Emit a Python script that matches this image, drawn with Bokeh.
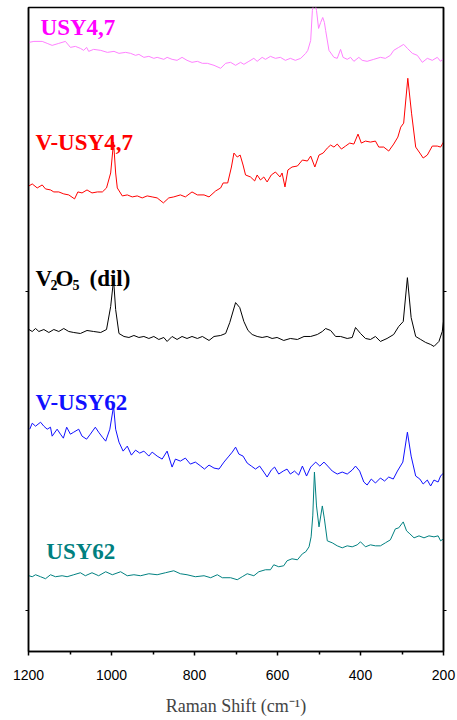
from bokeh.plotting import figure
from bokeh.models import Range1d, FixedTicker, LinearAxis, Label
from bokeh.embed import file_html
from bokeh.resources import INLINE

# Raman shift (cm-1) and intensity (a.u., stacked) for each spectrum
usy47_x = [1199, 1187, 1167, 1155, 1143, 1127, 1111, 1099, 1087, 1075, 1067, 1060, 1055, 1043, 1026, 1010,
           994, 982, 966, 954, 942, 934, 922, 910, 898, 890, 874, 866, 854, 842, 830, 818, 806, 793, 781,
           769, 753, 737, 725, 713, 701, 689, 681, 669, 657, 649, 637, 629, 617, 605, 593, 581, 569, 557,
           544, 532, 527, 520, 516, 511, 506, 501, 496, 491, 487, 484, 476, 464, 456, 448, 442, 432, 424,
           416, 404, 396, 384, 368, 352, 340, 328, 320, 308, 296, 287, 275, 263, 251, 239, 227, 215, 207, 200]
usy47_y = [570, 571, 571, 569, 567, 569, 571, 565, 566, 564, 562, 565, 561, 563, 562, 560,
           561, 559, 560, 559, 557, 558, 555, 556, 554, 555, 553, 555, 553, 552, 555, 552, 550, 551, 549,
           549, 547, 544, 549, 550, 547, 550, 548, 551, 554, 551, 555, 553, 556, 554, 555, 552, 554, 552,
           554, 559, 562, 572, 602, 612, 602, 584, 590, 595, 590, 582, 562, 555, 554, 563, 555, 553, 555,
           551, 555, 552, 551, 553, 555, 554, 557, 562, 565, 568, 564, 559, 557, 550, 554, 552, 555, 551, 554]

vusy47_x = [1199, 1191, 1179, 1167, 1159, 1147, 1139, 1127, 1115, 1103, 1089, 1081, 1071, 1059, 1047, 1034,
            1022, 1012, 1002, 995, 990, 986, 974, 962, 950, 938, 926, 914, 902, 890, 875, 862, 850, 834,
            822, 806, 793, 777, 765, 749, 737, 731, 720, 711, 705, 697, 690, 683, 677, 665, 655, 649, 641,
            633, 625, 615, 605, 594, 589, 582, 575, 565, 552, 540, 528, 520, 510, 500, 490, 480, 472, 464,
            456, 446, 436, 426, 416, 406, 398, 388, 376, 364, 356, 344, 332, 320, 310, 303, 296, 286, 277,
            267, 257, 249, 239, 227, 215, 207, 200]
vusy47_y = [426, 428, 424, 427, 423, 422, 420, 420, 418, 417, 413, 420, 419, 422, 419, 420,
            420, 424, 439, 470, 439, 424, 416, 417, 415, 416, 414, 416, 415, 414, 409, 414, 415, 417,
            415, 420, 417, 417, 415, 421, 424, 429, 429, 445, 459, 455, 457, 447, 437, 435, 431, 437, 432,
            435, 430, 437, 440, 435, 439, 425, 442, 445, 446, 452, 451, 456, 445, 457, 459, 464, 467, 465,
            468, 463, 466, 469, 468, 478, 469, 471, 470, 471, 465, 465, 461, 468, 475, 485, 489, 534, 499,
            465, 459, 454, 457, 466, 466, 465, 470]

v2o5_x = [1199, 1191, 1183, 1175, 1163, 1151, 1139, 1127, 1115, 1103, 1091, 1075, 1059, 1043, 1026, 1012,
          1002, 995, 990, 982, 970, 958, 946, 934, 922, 910, 898, 886, 874, 866, 854, 842, 830, 818, 806,
          793, 781, 765, 753, 737, 725, 715, 701, 691, 681, 671, 661, 649, 637, 625, 613, 601, 585, 569,
          552, 536, 520, 504, 492, 484, 472, 460, 448, 432, 420, 412, 400, 388, 376, 364, 352, 336, 320,
          308, 297, 287, 278, 267, 255, 243, 231, 223, 211, 203, 200]
v2o5_y = [282, 280, 283, 280, 282, 279, 282, 280, 283, 280, 279, 278, 281, 280, 279, 282,
          305, 332, 302, 278, 275, 274, 276, 274, 275, 273, 275, 272, 274, 270, 275, 272, 275, 273, 275,
          273, 275, 271, 275, 276, 278, 289, 309, 304, 290, 281, 277, 275, 274, 275, 273, 274, 271, 273,
          272, 275, 275, 277, 280, 283, 281, 275, 275, 273, 274, 284, 278, 273, 272, 275, 270, 273, 277,
          285, 290, 334, 294, 275, 272, 269, 267, 265, 270, 280, 290]

vusy62_x = [1197, 1191, 1183, 1171, 1163, 1155, 1147, 1143, 1131, 1123, 1116, 1108, 1099, 1091, 1079, 1071,
            1060, 1051, 1039, 1031, 1022, 1014, 1004, 995, 990, 982, 972, 962, 952, 942, 932, 922, 910,
            902, 890, 878, 866, 854, 846, 834, 822, 810, 798, 785, 776, 765, 753, 741, 729, 717, 709, 701,
            693, 683, 673, 663, 653, 643, 633, 625, 615, 607, 597, 586, 577, 569, 559, 549, 540, 530, 520,
            508, 498, 488, 479, 468, 456, 444, 432, 420, 412, 402, 392, 384, 374, 364, 352, 342, 332, 321,
            311, 298, 287, 278, 267, 257, 249, 239, 231, 223, 213, 207, 200]
vusy62_y = [182, 188, 185, 189, 185, 182, 184, 175, 182, 177, 173, 184, 177, 179, 182, 175,
            172, 177, 184, 179, 174, 170, 182, 205, 182, 169, 160, 165, 156, 161, 158, 160, 155,
            159, 155, 152, 160, 144, 152, 150, 153, 147, 149, 145, 142, 146, 143, 142, 149, 155, 159, 164,
            157, 155, 148, 145, 142, 145, 139, 134, 141, 144, 137, 140, 142, 137, 140, 136, 145, 135, 144,
            149, 145, 149, 145, 140, 137, 139, 137, 141, 145, 140, 129, 126, 132, 128, 133, 130, 134, 132,
            140, 149, 179, 155, 135, 132, 127, 131, 125, 131, 129, 135, 138]

usy62_x = [1199, 1191, 1183, 1171, 1159, 1147, 1135, 1119, 1107, 1091, 1075, 1063, 1047, 1031, 1014, 998,
           978, 962, 946, 930, 910, 890, 870, 850, 834, 818, 798, 777, 761, 745, 733, 713, 697, 685, 673,
           657, 645, 629, 617, 609, 597, 585, 577, 565, 552, 540, 532, 524, 519, 515, 511, 506, 500, 492,
           487, 480, 468, 456, 444, 432, 420, 408, 400, 388, 376, 364, 352, 340, 328, 316, 308, 297, 289,
           281, 271, 259, 247, 235, 223, 213, 207, 200]
usy62_y = [35, 34, 36, 34, 32, 36, 34, 35, 34, 36, 38, 35, 38, 35, 39, 36,
           39, 35, 36, 35, 37, 36, 38, 40, 37, 36, 34, 35, 33, 36, 33, 33, 31, 34, 37,
           35, 39, 41, 41, 46, 44, 45, 50, 52, 51, 57, 59, 64, 74, 95, 139, 105, 84, 105,
           92, 70, 68, 65, 63, 65, 64, 66, 69, 64, 66, 65, 65, 68, 71, 82, 83, 89, 80,
           77, 73, 75, 73, 75, 74, 75, 70, 72]

x_ticks = [1200, 1000, 800, 600, 400, 200]
x_minor = [1100, 900, 700, 500, 300]
y_ticks = [0, 320]

SERIF = "Liberation Serif"
SANS = "Liberation Sans"

p = figure(width=457, height=718, output_backend="svg", toolbar_location=None,
           x_range=Range1d(1200, 200), y_range=Range1d(-41, 605),
           min_border_left=28, min_border_right=14, min_border_top=7, min_border_bottom=65)
p.xgrid.visible = False
p.ygrid.visible = False
p.outline_line_color = "black"
p.outline_line_width = 1.5
p.background_fill_color = "white"
p.border_fill_color = "white"

p.line(usy47_x, usy47_y, line_color="#FF80FF", line_width=1)
p.line(vusy47_x, vusy47_y, line_color="#FF0000", line_width=1)
p.line(v2o5_x, v2o5_y, line_color="black", line_width=1)
p.line(vusy62_x, vusy62_y, line_color="#1010FF", line_width=1)
p.line(usy62_x, usy62_y, line_color="#008080", line_width=1)

xa = p.xaxis[0]
xa.ticker = FixedTicker(ticks=x_ticks, minor_ticks=x_minor)
xa.axis_line_width = 1.5
xa.major_tick_in = 0
xa.major_tick_out = 4
xa.minor_tick_in = 0
xa.minor_tick_out = 3
xa.major_tick_line_width = 1.5
xa.minor_tick_line_width = 1.5
xa.major_label_text_font = SANS
xa.major_label_text_font_size = "14px"
xa.major_label_text_color = "black"
xa.major_label_standoff = 14
xa.axis_label = "Raman Shift (cm\u207b\u00b9)"
xa.axis_label_text_font = SERIF
xa.axis_label_text_font_style = "normal"
xa.axis_label_text_font_size = "18px"
xa.axis_label_standoff = 13


def style_y(ax):
    ax.ticker = FixedTicker(ticks=y_ticks, minor_ticks=[])
    ax.axis_line_width = 1.5
    ax.major_tick_in = 0
    ax.major_tick_out = 3
    ax.minor_tick_out = 0
    ax.minor_tick_in = 0
    ax.major_label_text_font_size = "1px"
    ax.major_label_text_color = None
    ax.major_label_standoff = 0


style_y(p.yaxis[0])
ra = LinearAxis()
style_y(ra)
p.add_layout(ra, "right")


def lab(x, y, text, color, size="23px"):
    p.add_layout(Label(x=x, y=y, text=text, text_color=color, text_font=SERIF,
                       text_font_style="bold", text_font_size=size,
                       text_baseline="alphabetic", text_align="left"))


lab(1171, 585, "USY4,7", "#FF00FF")
lab(1183, 470, "V-USY4,7", "#FF0000")
lab(1183, 333, "V", "black")
lab(1147, 327, "2", "black", "14px")
lab(1135, 333, "O", "black")
lab(1094, 327, "5", "black", "14px")
lab(1053, 333, "(dil)", "black")
lab(1183, 209, "V-USY62", "#1010FF")
lab(1157, 59, "USY62", "#008080")

open("out.html", "w").write(file_html(p, INLINE))
